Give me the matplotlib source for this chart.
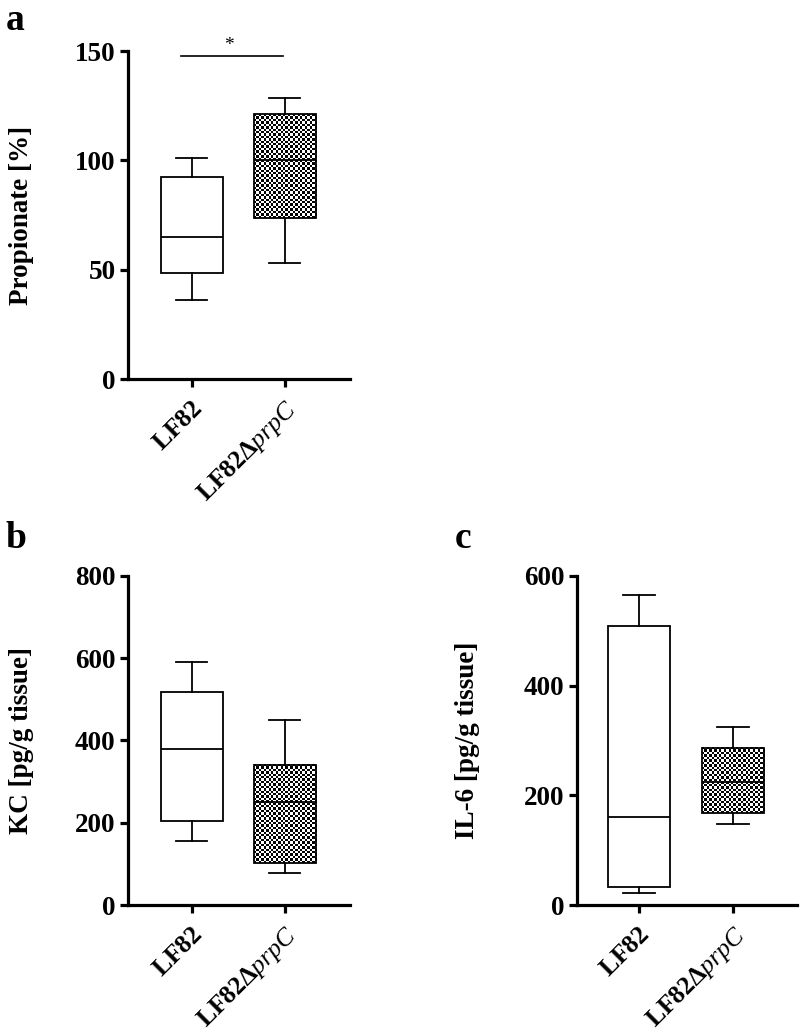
import matplotlib
matplotlib.use("Agg")
import numpy as np
import matplotlib.pyplot as plt

plt.rcParams['font.family'] = ['Liberation Serif', 'DejaVu Serif']
plt.rcParams['mathtext.fontset'] = 'custom'
plt.rcParams['mathtext.rm'] = 'Liberation Serif:weight=bold'
plt.rcParams['mathtext.bf'] = 'Liberation Serif:weight=bold'
plt.rcParams['mathtext.it'] = 'Liberation Serif:style=italic:weight=normal'

# ---- data (whisker low, Q1, median, Q3, whisker high) ----
groups = ["LF82", "LF82ΔprpC"]
tick_labels = [r"$\mathbf{LF82}$", r"$\mathbf{LF82}\mathit{\Delta prpC}$"]

prop_lf82 = [36, 48.5, 65, 92.5, 101]
prop_prpc = [53, 73.5, 100, 121, 128.5]

kc_lf82 = [156, 205, 380, 519, 590]
kc_prpc = [78, 102, 251, 341, 449]

il6_lf82 = [22, 33, 160, 508, 565]
il6_prpc = [147, 167, 225, 287, 325]

sig_level = 147.5
sig_span = [0.88, 1.98]
sig_star_x = 1.40
sig_text = "*"

yticks_a = [0, 50, 100, 150]
yticks_b = [0, 200, 400, 600, 800]
yticks_c = [0, 200, 400, 600]

FS = 19.5
XFS = 18.5
BOXW = 0.667
CELL_PX = 2.4


def stats(v, label):
    return dict(whislo=v[0], q1=v[1], med=v[2], q3=v[3], whishi=v[4], label=label, fliers=[])


def checker_fill(ax, pos, v):
    x0, x1 = pos - BOXW / 2, pos + BOXW / 2
    y0, y1 = v[1], v[3]
    p0 = ax.transData.transform((x0, y0))
    p1 = ax.transData.transform((x1, y1))
    nx = max(1, int(round(abs(p1[0] - p0[0]) / CELL_PX)))
    ny = max(1, int(round(abs(p1[1] - p0[1]) / CELL_PX)))
    ii, jj = np.indices((ny, nx))
    arr = ((ii + jj) % 2).astype(float)
    ax.imshow(arr, cmap='gray', vmin=0, vmax=1, extent=(x0, x1, y0, y1),
              interpolation='nearest', aspect='auto', zorder=1.5, origin='lower')


def panel(ax, a, b, yticks, ylabel, xlim, label_x):
    ax.set_xlim(*xlim)
    ax.set_ylim(yticks[0], yticks[-1])
    res = ax.bxp([stats(a, groups[0]), stats(b, groups[1])], positions=[1, 2], widths=BOXW,
                 showfliers=False, patch_artist=True,
                 boxprops=dict(linewidth=1.3, edgecolor='black', facecolor='white'),
                 whiskerprops=dict(linewidth=1.3, color='black'),
                 capprops=dict(linewidth=1.3, color='black'),
                 medianprops=dict(linewidth=1.3, color='black'))
    res['boxes'][1].set_facecolor('none')
    ax.set_xlim(*xlim)
    ax.set_ylim(yticks[0], yticks[-1])
    checker_fill(ax, 2, b)
    ax.set_xlim(*xlim)
    ax.set_ylim(yticks[0], yticks[-1])
    ax.set_yticks(yticks)
    ax.set_yticklabels([str(t) for t in yticks], fontsize=FS, fontweight='bold')
    ax.set_xticks([1, 2])
    ax.set_xticklabels(tick_labels, fontsize=XFS, rotation=45, ha='right', va='top',
                       rotation_mode='anchor')
    for s in ['top', 'right']:
        ax.spines[s].set_visible(False)
    for s in ['left', 'bottom']:
        ax.spines[s].set_linewidth(2.3)
    ax.spines['left'].set_bounds(yticks[0], yticks[-1])
    ax.tick_params(axis='both', width=2.3, length=6, direction='out', pad=3)
    ax.tick_params(axis='x', pad=7)
    ax.set_ylabel(ylabel, fontsize=FS, fontweight='bold', va='center', ha='center')
    ax.yaxis.set_label_coords(label_x, 0.5)


fig = plt.figure(figsize=(8, 10.35), dpi=100)

ax_a = fig.add_axes([0.16, 0.6338, 0.2775, 0.3169])
panel(ax_a, prop_lf82, prop_prpc, yticks_a, "Propionate [%]", (0.312, 2.70), -0.48)
ax_a.plot(sig_span, [sig_level, sig_level], color='black', lw=1.2, clip_on=False)
ax_a.text(sig_star_x, sig_level + 1.0, sig_text, ha='center', va='bottom', fontsize=14,
          fontweight='normal')

ax_b = fig.add_axes([0.16, 0.1256, 0.2775, 0.3179])
panel(ax_b, kc_lf82, kc_prpc, yticks_b, "KC [pg/g tissue]", (0.312, 2.70), -0.48)

ax_c = fig.add_axes([0.72125, 0.1256, 0.275, 0.3179])
panel(ax_c, il6_lf82, il6_prpc, yticks_c, "IL-6 [pg/g tissue]", (0.34, 2.68), -0.50)

fig.text(6 / 800, 1 - 30 / 1035, "a", fontsize=27, fontweight='bold', ha='left', va='baseline')
fig.text(6 / 800, 1 - 548 / 1035, "b", fontsize=27, fontweight='bold', ha='left', va='baseline')
fig.text(455 / 800, 1 - 548 / 1035, "c", fontsize=27, fontweight='bold', ha='left', va='baseline')

fig.savefig("out.png", dpi=100, facecolor='white')
